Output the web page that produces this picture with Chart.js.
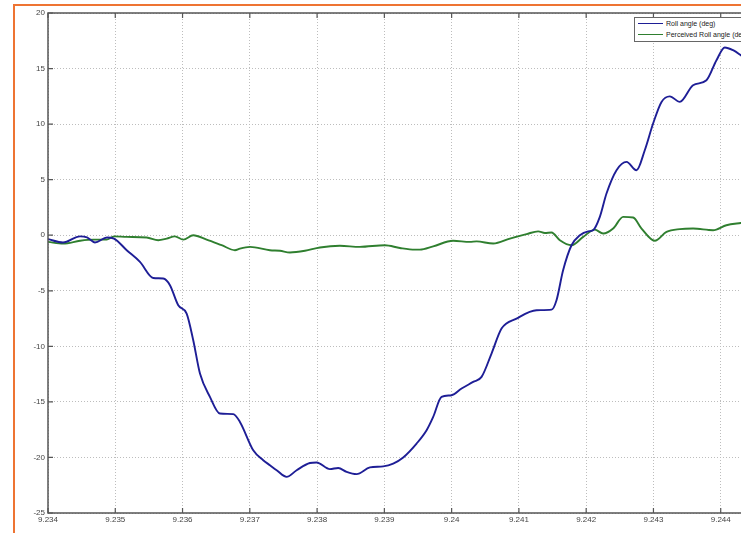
<!DOCTYPE html>
<html>
<head>
<meta charset="utf-8">
<script src="https://cdn.jsdelivr.net/npm/chart.js@4/dist/chart.umd.min.js"></script>
<style>
  html, body { margin: 0; padding: 0; background: #fff; overflow: hidden; width: 741px; height: 533px; }
  #wrap { position: relative; width: 741px; height: 533px; overflow: hidden; }
  #frame { position: absolute; left: 13px; top: 4px; width: 900px; height: 900px;
           border-left: 2px solid #ee7433; border-top: 2px solid #ee7433; }
  canvas { position: absolute; left: 0; top: 0; }
  #legend { position: absolute; left: 634px; top: 17px; width: 150px; height: 23px;
            background: #fff; border: 1px solid #666; font-family: "Liberation Sans", Arial, sans-serif;
            font-size: 7px; color: #222; line-height: 11px; }
  .row { position: relative; height: 11px; white-space: nowrap; }
  .sw { position: absolute; left: 3px; top: 5px; width: 25px; height: 0; border-top: 1.5px solid; }
  .lb { position: absolute; left: 31px; top: 0; }
</style>
</head>
<body>
<div id="wrap">
  <div id="frame"></div>
  <canvas id="c" width="800" height="533"></canvas>
  <div id="legend">
    <div class="row"><span class="sw" style="border-color:#1e1e96"></span><span class="lb">Roll angle (deg)</span></div>
    <div class="row"><span class="sw" style="border-color:#2f7f2f"></span><span class="lb">Perceived Roll angle (deg)</span></div>
  </div>
</div>
<script>
const seriesNames = ["Roll angle (deg)", "Perceived Roll angle (deg)"];
const xTicks = [9.234, 9.235, 9.236, 9.237, 9.238, 9.239, 9.24, 9.241, 9.242, 9.243, 9.244, 9.245];
const yTicks = [-25, -20, -15, -10, -5, 0, 5, 10, 15, 20];

const rollTime = [9.234000, 9.234223, 9.234476, 9.234580, 9.234698, 9.234877, 9.234981, 9.235170, 9.235367, 9.235565,
  9.235713, 9.235813, 9.235936, 9.236061, 9.236159, 9.236259, 9.236407, 9.236556, 9.236754, 9.236853,
  9.237051, 9.237199, 9.237299, 9.237399, 9.237547, 9.237696, 9.237893, 9.237993, 9.238191, 9.238314,
  9.238439, 9.238587, 9.238785, 9.238983, 9.239131, 9.239280, 9.239479, 9.239628, 9.239726, 9.239850,
  9.239999, 9.240148, 9.240320, 9.240445, 9.240593, 9.240742, 9.240965, 9.241262, 9.241485, 9.241559,
  9.241657, 9.241782, 9.241906, 9.242029, 9.242103, 9.242203, 9.242302, 9.242451, 9.242600, 9.242748,
  9.242871, 9.242995, 9.243120, 9.243243, 9.243392, 9.243589, 9.243788, 9.243937, 9.244060, 9.244184,
  9.244298, 9.244430];
const rollAngle = [-0.35, -0.65, -0.1, -0.2, -0.65, -0.2, -0.3, -1.35, -2.4, -3.85,
  -3.9, -4.5, -6.3, -7.05, -9.45, -12.45, -14.55, -16.05, -16.1, -16.8,
  -19.35, -20.25, -20.7, -21.15, -21.75, -21.15, -20.5, -20.45, -21.05, -20.95,
  -21.3, -21.5, -20.9, -20.8, -20.55, -20.0, -18.75, -17.55, -16.35, -14.55,
  -14.4, -13.8, -13.2, -12.75, -10.65, -8.4, -7.5, -6.75, -6.7, -5.85,
  -3.15, -0.9, 0.0, 0.35, 0.45, 1.65, 3.75, 5.85, 6.6, 5.85,
  7.65, 10.05, 12.0, 12.5, 12.0, 13.5, 13.95, 15.75, 16.9, 16.65,
  16.2, 15.6];

const percTime = [9.234000, 9.234227, 9.234476, 9.234673, 9.234872, 9.234981, 9.235170, 9.235467, 9.235639, 9.235764,
  9.235887, 9.236011, 9.236159, 9.236358, 9.236581, 9.236779, 9.236853, 9.237002, 9.237299, 9.237448,
  9.237596, 9.237819, 9.238042, 9.238339, 9.238636, 9.239008, 9.239231, 9.239454, 9.239528, 9.239726,
  9.240023, 9.240271, 9.240371, 9.240618, 9.240866, 9.241114, 9.241286, 9.241386, 9.241485, 9.241609,
  9.241782, 9.241955, 9.242129, 9.242252, 9.242401, 9.242550, 9.242698, 9.242823, 9.243020, 9.243194,
  9.243392, 9.243589, 9.243886, 9.244084, 9.244298, 9.244430];
const percAngle = [-0.6, -0.75, -0.5, -0.4, -0.4, -0.1, -0.15, -0.2, -0.45, -0.3,
  -0.1, -0.4, 0.0, -0.4, -0.9, -1.35, -1.2, -1.05, -1.35, -1.4,
  -1.55, -1.4, -1.1, -0.95, -1.05, -0.9, -1.15, -1.3, -1.3, -1.0,
  -0.5, -0.6, -0.55, -0.75, -0.3, 0.1, 0.35, 0.2, 0.25, -0.45,
  -0.9, -0.15, 0.5, 0.15, 0.6, 1.65, 1.6, 0.6, -0.5, 0.3,
  0.55, 0.6, 0.45, 0.9, 1.1, 1.2];

const toPts = (xs, ys) => xs.map((x, i) => ({ x: x, y: ys[i] }));

const boxPlugin = {
  id: 'box',
  afterDraw(chart) {
    const { ctx, chartArea: a, scales } = chart;
    ctx.save();
    ctx.strokeStyle = '#555';
    ctx.lineWidth = 1.5;
    ctx.strokeRect(a.left, a.top, a.right - a.left, a.bottom - a.top);
    ctx.lineWidth = 1.2;
    ctx.beginPath();
    const L = 5;
    xTicks.forEach(v => {
      const px = scales.x.getPixelForValue(v);
      ctx.moveTo(px, a.bottom); ctx.lineTo(px, a.bottom - L);
      ctx.moveTo(px, a.top); ctx.lineTo(px, a.top + L);
    });
    yTicks.forEach(v => {
      const py = scales.y.getPixelForValue(v);
      ctx.moveTo(a.left, py); ctx.lineTo(a.left + L, py);
      ctx.moveTo(a.right, py); ctx.lineTo(a.right - L, py);
    });
    ctx.stroke();
    ctx.restore();
  }
};

new Chart(document.getElementById('c'), {
  type: 'line',
  data: {
    datasets: [
      { label: seriesNames[0], data: toPts(rollTime, rollAngle), borderColor: '#1e1e96', borderWidth: 1.9,
        pointRadius: 0, tension: 0.4, cubicInterpolationMode: 'monotone', fill: false },
      { label: seriesNames[1], data: toPts(percTime, percAngle), borderColor: '#2f7f2f', borderWidth: 1.9,
        pointRadius: 0, tension: 0.4, cubicInterpolationMode: 'monotone', fill: false }
    ]
  },
  plugins: [boxPlugin],
  options: {
    responsive: false,
    animation: false,
    devicePixelRatio: 1,
    layout: { padding: { left: 0, top: 13, right: 12, bottom: 0 } },
    plugins: { legend: { display: false }, tooltip: { enabled: false } },
    scales: {
      x: {
        type: 'linear', min: 9.234, max: 9.245,
        afterBuildTicks: s => { s.ticks = xTicks.map(v => ({ value: v })); },
        afterFit: s => { s.height = 20; },
        ticks: { autoSkip: false, maxRotation: 0, padding: 2, color: '#444',
          font: { family: '"Liberation Sans", Arial, sans-serif', size: 8 },
          callback: v => parseFloat(v.toFixed(3)).toString() },
        grid: { color: '#bdbdbd', lineWidth: 1, tickLength: 0, drawTicks: false },
        border: { display: false, dash: [1, 2] }
      },
      y: {
        type: 'linear', min: -25, max: 20,
        afterBuildTicks: s => { s.ticks = yTicks.map(v => ({ value: v })); },
        afterFit: s => { s.width = 48; },
        ticks: { autoSkip: false, padding: 3, color: '#444',
          font: { family: '"Liberation Sans", Arial, sans-serif', size: 8 } },
        grid: { color: '#bdbdbd', lineWidth: 1, tickLength: 0, drawTicks: false },
        border: { display: false, dash: [1, 2] }
      }
    }
  }
});
</script>
</body>
</html>
